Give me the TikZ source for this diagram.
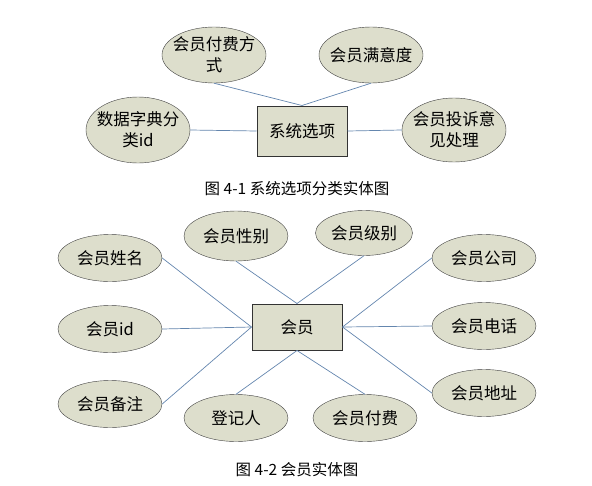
\documentclass[tikz,border=0pt]{standalone}
\usepackage{fontspec}
\newfontfamily\cjk{Noto Sans CJK SC}
\usetikzlibrary{shapes.geometric}

\definecolor{attrfill}{RGB}{221,222,204}
\definecolor{linkblue}{RGB}{100,134,174}

\tikzset{
	attr/.style = {ellipse, draw = black!75, fill = attrfill, inner ysep = 0pt, inner xsep = -5pt, align = center,
		minimum width = 104pt, minimum height = 47pt, font = \cjk\fontsize{16.5}{21}\selectfont},
	entity/.style = {rectangle, draw = black!80, line width = 1pt, fill = attrfill,
		minimum width = 90pt, minimum height = 46pt, font = \cjk\fontsize{16.5}{21}\selectfont},
	link/.style = {draw = linkblue, line width = 0.7pt},
	caption/.style = {font = \cjk\fontsize{15.5}{18}\selectfont}
}

\begin{document}
\begin{tikzpicture}[x = 1pt, y = -1pt]

\useasboundingbox (0,0) rectangle (592,485);

%% Figure 4-1: system options

\node[entity, minimum height = 50pt] (xtxx) at (302, 131) {系统选项};

\node[attr, minimum height = 56pt] (xtfs) at (214, 55) {会员付费方\\式};
\node[attr, minimum height = 56pt] (xtmy) at (371, 55) {会员满意度};
\node[attr, minimum height = 66pt] (xtzd) at (138, 130) {数据字典分\\类id};
\node[attr, minimum height = 64pt] (xtts) at (454, 130) {会员投诉意\\见处理};

\draw[link] (xtfs.south) -- (xtxx.north);
\draw[link] (xtmy.south) -- (xtxx.north);
\draw[link] (xtzd.east) -- (xtxx.west);
\draw[link] (xtts.west) -- (xtxx.east);

\node[caption] (capa) at (297, 189) {图 4-1 系统选项分类实体图};

%% Figure 4-2: member

\node[entity] (hy) at (297, 327) {会员};

%%% left column
\node[attr] (hyxm) at (110, 258) {会员姓名};
\node[attr] (hyid) at (110, 329) {会员id};
\node[attr] (hybz) at (110, 404) {会员备注};

%%% top and bottom
\node[attr, minimum height = 50pt] (hyxb) at (236, 236) {会员性别};
\node[attr, minimum width = 97pt, minimum height = 45pt] (hyjb) at (364, 233) {会员级别};
\node[attr] (djr) at (236, 418) {登记人};
\node[attr] (hyff) at (365, 418) {会员付费};

%%% right column
\node[attr] (hygs) at (484, 258) {会员公司};
\node[attr] (hydh) at (484, 326) {会员电话};
\node[attr] (hydz) at (484, 393) {会员地址};

\draw[link] (hyxm.east) -- (hy.west);
\draw[link] (hyid.east) -- (hy.west);
\draw[link] (hybz.east) -- (hy.west);

\draw[link] (hyxb.south) -- (hy.north);
\draw[link] (hyjb.south) -- (hy.north);
\draw[link] (djr.north) -- (hy.south);
\draw[link] (hyff.north) -- (hy.south);

\draw[link] (hygs.west) -- (hy.east);
\draw[link] (hydh.west) -- (hy.east);
\draw[link] (hydz.west) -- (hy.east);

\node[caption] (capb) at (297, 470) {图 4-2 会员实体图};

\end{tikzpicture}
\end{document}
